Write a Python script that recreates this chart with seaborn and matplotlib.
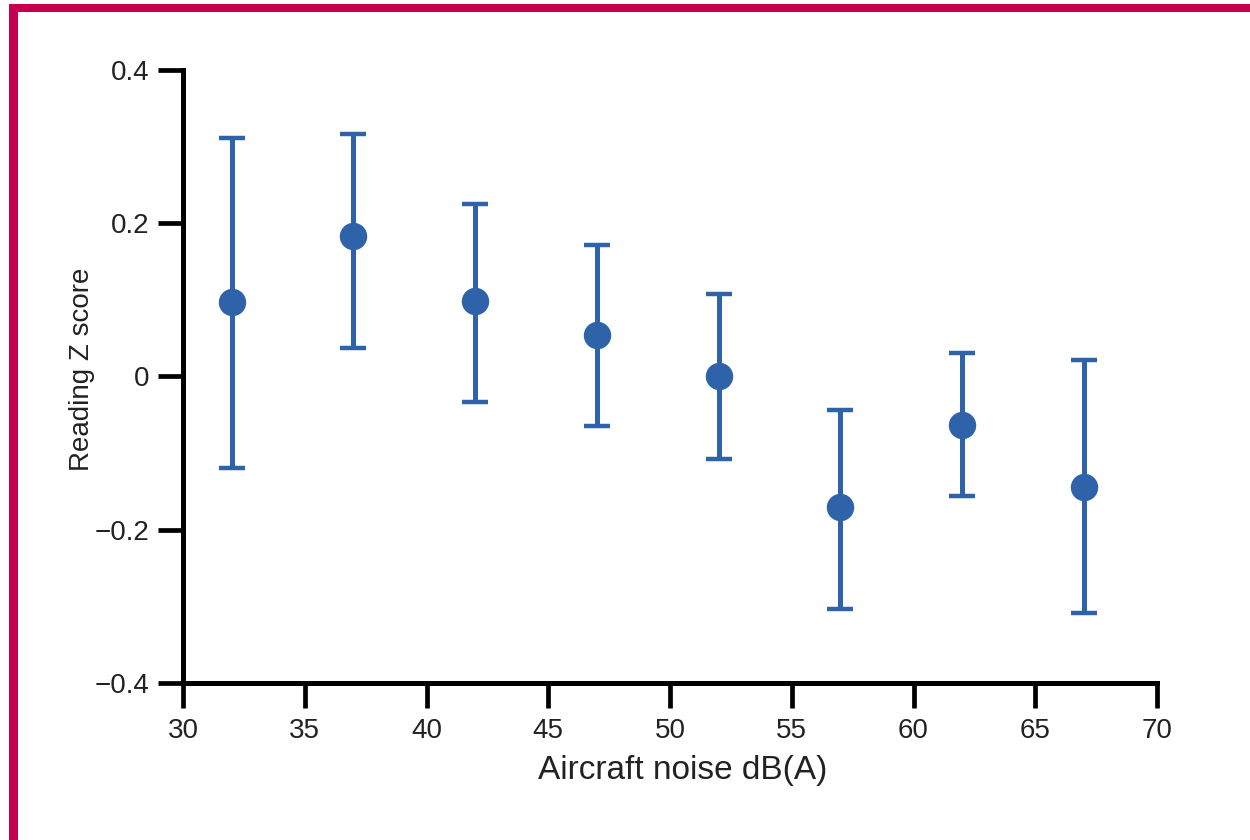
import matplotlib
matplotlib.use("Agg")
import matplotlib.pyplot as plt
from matplotlib.patches import Rectangle
import seaborn as sns
import pandas as pd
import numpy as np

# Data
noise_db = [32, 37, 42, 47, 52, 57, 62, 67]
z_mean = [0.097, 0.183, 0.099, 0.054, 0.001, -0.170, -0.063, -0.144]
z_lower = [-0.119, 0.037, -0.033, -0.064, -0.108, -0.303, -0.156, -0.308]
z_upper = [0.311, 0.316, 0.225, 0.171, 0.107, -0.044, 0.031, 0.021]

x_ticks = [30, 35, 40, 45, 50, 55, 60, 65, 70]
y_ticks = [-0.4, -0.2, 0, 0.2, 0.4]
y_tick_labels = ["\u22120.4", "\u22120.2", "0", "0.2", "0.4"]

df = pd.DataFrame({"noise": noise_db, "z": z_mean, "lo": z_lower, "hi": z_upper})

sns.set_theme(style="ticks")
plt.rcParams["font.family"] = ["Liberation Sans", "DejaVu Sans"]

color = "#2E63A9"
fig = plt.figure(figsize=(12.5, 8.4), dpi=100)
ax = fig.add_axes([0.1464, 0.1869, 0.7792, 0.7298])

yerr = np.vstack([df["z"] - df["lo"], df["hi"] - df["z"]])
ax.errorbar(df["noise"], df["z"], yerr=yerr, fmt="none", ecolor=color,
            elinewidth=3.6, capsize=9.7, capthick=3.2, zorder=2)
sns.scatterplot(data=df, x="noise", y="z", ax=ax, color=color, marker="o",
                s=390, edgecolor=color, linewidth=0, zorder=3, legend=False)

ax.set_xlim(30, 70)
ax.set_ylim(-0.4, 0.4)
ax.set_xticks(x_ticks)
ax.set_xticklabels([str(t) for t in x_ticks])
ax.set_yticks(y_ticks)
ax.set_yticklabels(y_tick_labels)

for side in ["top", "right"]:
    ax.spines[side].set_visible(False)
for side in ["left", "bottom"]:
    ax.spines[side].set_linewidth(3.6)
    ax.spines[side].set_color("black")
    ax.spines[side].set_capstyle("projecting")

ax.tick_params(axis="both", direction="out", length=18, width=3.4,
               color="black", labelsize=20, labelcolor="#222222")
ax.tick_params(axis="x", pad=7)
ax.tick_params(axis="y", pad=6)

ax.set_xlabel("Aircraft noise dB(A)", fontsize=24, color="#222222")
ax.set_ylabel("Reading Z score", fontsize=20, color="#222222")
ax.xaxis.set_label_coords(0.513, -0.117)
ax.yaxis.set_label_coords(-0.090, 0.511)

# crimson frame lines (top and left)
fig.add_artist(Rectangle((9 / 1250, 1 - 12 / 840), 1.0, 8 / 840,
                         transform=fig.transFigure, color="#C5004E", lw=0))
fig.add_artist(Rectangle((9 / 1250, 0), 9 / 1250, 1 - 4 / 840,
                         transform=fig.transFigure, color="#C5004E", lw=0))

fig.savefig("out.png", dpi=100, facecolor="white")
